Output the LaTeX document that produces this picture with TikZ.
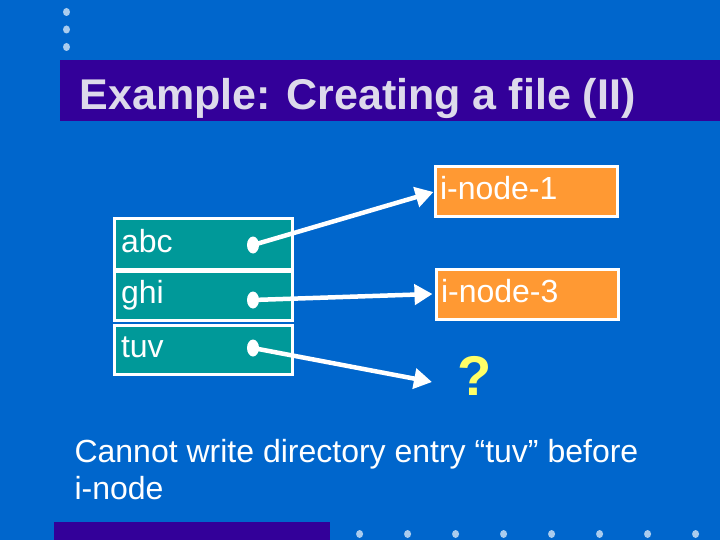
\documentclass[tikz,border=0pt]{standalone}
\usepackage{fontspec}
\setmainfont{Liberation Sans}
\usetikzlibrary{arrows.meta}
\usetikzlibrary{positioning}
\definecolor{bgblue}{RGB}{0,102,204}
\definecolor{mpurple}{RGB}{51,0,153}
\definecolor{mteal}{RGB}{0,153,153}
\definecolor{morange}{RGB}{255,153,51}
\definecolor{mtitle}{RGB}{221,218,235}
\definecolor{mdot}{RGB}{170,204,238}
\definecolor{myellow}{RGB}{255,255,102}
\tikzset{entry/.style = {draw=white, line width=3pt, fill=mteal, text=white,
                         minimum height=#1, text width=164pt, inner xsep=7pt,
                         align=left, font=\fontsize{32}{36}\selectfont,
                         text height=23pt, text depth=7pt},
         inode/.style = {draw=white, line width=3pt, fill=morange, text=white,
                         minimum height=50pt, text width=172pt, inner xsep=5pt,
                         align=left, font=\fontsize{32}{36}\selectfont,
                         text height=23pt, text depth=7pt},
         link/.style = {white, line width=4.5pt, -{Triangle[length=18pt, width=20pt]}}}

\begin{document}
\begin{tikzpicture}[x=1pt, y=-1pt]
      \fill [bgblue] (0, 0) rectangle (720, 540);
      \fill [mpurple] (60, 60) rectangle (720, 121);
      \fill [mpurple] (54, 522) rectangle (330, 540);
      \foreach \y in {12, 29.5, 47}
        \fill [mdot] (66.5, \y) ellipse (3.5 and 4);
      \foreach \i in {0,...,7}
        \fill [mdot] (359.6+48*\i, 534) ellipse (3.5 and 4);

      \node [anchor=base west, text=mtitle, font=\bfseries\fontsize{43}{50}\selectfont]
        (title) at (76, 110) {Example: Creating a file (II)};

      \node [entry=50pt] (abc) at (203, 244) {abc};
      \node [entry=49pt] (ghi) at (203, 295.5) {ghi};
      \node [entry=49pt] (tuv) at (203, 349.5) {tuv};

      \node [inode] (i1) at (526, 192) {i-node-1};
      \node [inode] (i3) at (527, 294) {i-node-3};

      \node [text=myellow, font=\bfseries\fontsize{56}{60}\selectfont]
        (qm) at (475, 376) {?};

      \coordinate (pa) at (253, 245);
      \coordinate (pg) at (253, 300);
      \coordinate (pt) at (253, 348);
      \coordinate (qend) at (432, 382);
      \foreach \p in {pa, pg, pt}
        \fill [white] (\p) ellipse (6 and 8.5);

      \draw [link] (pa) -- (i1.west);
      \draw [link] (pg) -- ([xshift=-2pt]i3.west);
      \draw [link] (pt) -- (qend);

      \node [anchor=base west, text=white, align=left, font=\fontsize{32}{37}\selectfont]
        (note) at (71, 499) {Cannot write directory entry “tuv” before\\i-node};
    \end{tikzpicture}
\end{document}
